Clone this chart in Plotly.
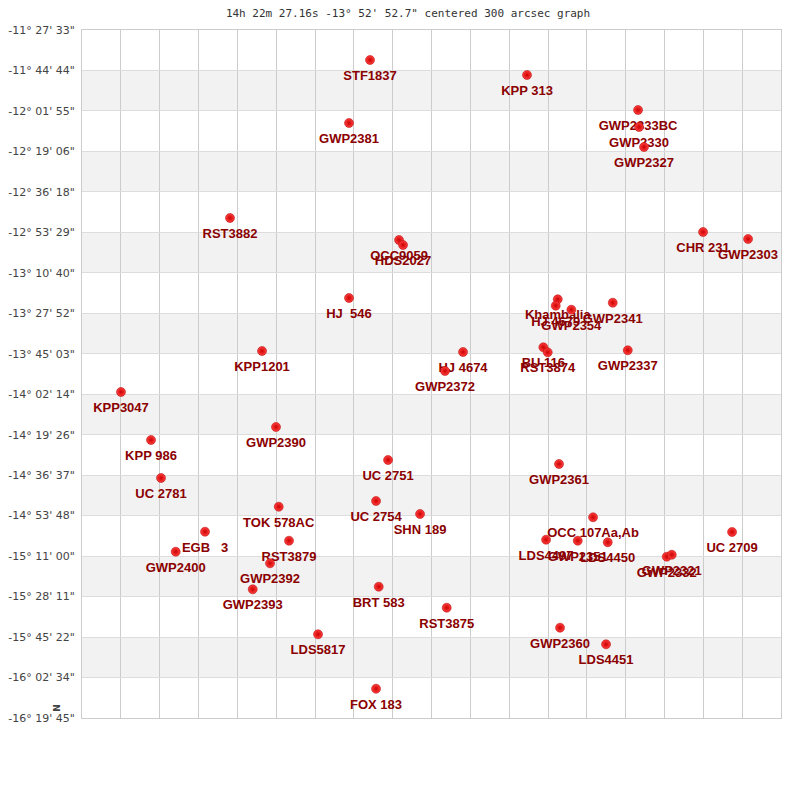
import plotly.graph_objects as go

# Star names, RA offset (grid units, east to the left) and declination (degrees)
names = ["STF1837", "KPP 313", "GWP2381", "GWP2333BC", "GWP2330", "GWP2327",
         "RST3882", "CHR 231", "GWP2303", "OCC9059", "HDS2027", "HJ  546",
         "Khambalia", "HJ 4679", "GWP2354", "GWP2341", "BU 116", "RST3874",
         "GWP2337", "KPP1201", "HJ 4674", "GWP2372", "KPP3047", "GWP2390",
         "KPP 986", "UC 2751", "GWP2361", "UC 2781", "UC 2754", "SHN 189",
         "TOK 578AC", "EGB   3", "GWP2400", "RST3879", "GWP2392", "GWP2393",
         "BRT 583", "RST3875", "LDS5817", "FOX 183", "GWP2360", "LDS4451",
         "OCC 107Aa,Ab", "LDS4497", "GWP2351", "LDS4450", "GWP2332", "GWP2321",
         "UC 2709"]
ra_grid = [7.417, 11.460, 6.876, 14.319, 14.345, 14.473,
           3.811, 15.993, 17.152, 8.164, 8.267, 6.876,
           12.251, 12.199, 12.601, 13.667, 11.880, 11.993,
           14.054, 4.636, 9.812, 9.348, 1.004, 4.996,
           1.777, 7.881, 12.284, 2.035, 7.572, 8.705,
           5.066, 3.168, 2.413, 5.331, 4.842, 4.396,
           7.641, 9.392, 6.078, 7.572, 12.310, 13.495,
           13.160, 11.950, 12.766, 13.538, 15.058, 15.187,
           16.740]
dec_deg = [-11.6716, -11.7777, -12.1175, -12.0255, -12.1458, -12.2874,
           -12.7900, -12.8891, -12.9386, -12.9457, -12.9811, -13.3562,
           -13.3654, -13.4107, -13.4391, -13.3895, -13.7052, -13.7406,
           -13.7264, -13.7314, -13.7385, -13.8730, -14.0216, -14.2694,
           -14.3614, -14.5030, -14.5313, -14.6304, -14.7932, -14.8852,
           -14.8335, -15.0105, -15.1520, -15.0742, -15.2342, -15.4182,
           -15.3998, -15.5484, -15.7367, -16.1218, -15.6900, -15.8075,
           -14.9086, -15.0671, -15.0742, -15.0855, -15.1874, -15.1733,
           -15.0126]

dec_tick_labels = ["-11° 27' 33\"", "-11° 44' 44\"", "-12° 01' 55\"", "-12° 19' 06\"",
                   "-12° 36' 18\"", "-12° 53' 29\"", "-13° 10' 40\"", "-13° 27' 52\"",
                   "-13° 45' 03\"", "-14° 02' 14\"", "-14° 19' 26\"", "-14° 36' 37\"",
                   "-14° 53' 48\"", "-15° 11' 00\"", "-15° 28' 11\"", "-15° 45' 22\"",
                   "-16° 02' 34\"", "-16° 19' 45\""]
ra_grid_lines = list(range(0, 19))

title_text = "14h 22m 27.16s -13° 52' 52.7\" centered 300 arcsec graph"


def parse_dms(s):
    s = s.replace("°", " ").replace("'", " ").replace('"', " ")
    d, m, sec = [float(p) for p in s.split()]
    sign = -1 if s.strip().startswith("-") else 1
    return sign * (abs(d) + m / 60 + sec / 3600)


dec_tick_vals = [parse_dms(t) for t in dec_tick_labels]

fig = go.Figure()

# alternating bands
shapes = []
for i in range(1, len(dec_tick_vals) - 1, 2):
    shapes.append(dict(type="rect", xref="paper", yref="y", x0=0, x1=1,
                       y0=dec_tick_vals[i + 1], y1=dec_tick_vals[i],
                       fillcolor="#f2f2f2", line=dict(width=0), layer="below"))

# labels (invisible larger markers push text a bit lower)
fig.add_trace(go.Scatter(
    x=ra_grid, y=dec_deg, text=names, mode="markers+text",
    textposition="bottom center",
    textfont=dict(family="Liberation Sans, Arial, sans-serif", size=13,
                  color="#8b0000", weight="bold"),
    marker=dict(size=15, color="rgba(0,0,0,0)"),
    cliponaxis=False, hoverinfo="skip", showlegend=False))

# star dots
fig.add_trace(go.Scatter(
    x=ra_grid, y=dec_deg, text=names, mode="markers",
    marker=dict(size=9, color="#ff4040",
                gradient=dict(type="radial", color="#cc0000"),
                line=dict(width=0.5, color="#b00000")),
    cliponaxis=False, hoverinfo="text", showlegend=False))

fig.update_layout(
    width=800, height=800,
    paper_bgcolor="white", plot_bgcolor="white",
    margin=dict(l=74, r=27, t=22, b=90, autoexpand=False),
    shapes=shapes,
    title=dict(text=title_text, x=0.5, xanchor="center", y=0.994, yanchor="middle",
               font=dict(family="DejaVu Sans Mono, monospace", size=11, color="#333")),
    xaxis=dict(range=[0, 18], tickvals=ra_grid_lines, showticklabels=False,
               showgrid=True, gridcolor="#cccccc", gridwidth=1, zeroline=False,
               showline=True, linecolor="#cccccc", mirror=True, ticks="",
               automargin=False),
    yaxis=dict(range=[dec_tick_vals[-1], dec_tick_vals[0]], tickvals=dec_tick_vals,
               ticktext=dec_tick_labels, showgrid=True, gridcolor="#dddddd",
               gridwidth=1, zeroline=False, showline=True, linecolor="#cccccc",
               mirror=True, ticks="", ticklabelstandoff=4, automargin=False,
               tickfont=dict(family="DejaVu Sans, sans-serif", size=11, color="#444")),
    annotations=[dict(text="<b>N</b>", xref="paper", yref="paper", x=-0.036, y=0.0145,
                      xanchor="center", yanchor="middle",
                      showarrow=False, textangle=-90,
                      font=dict(family="DejaVu Sans, sans-serif", size=9, color="#444"))],
)

fig.write_html("out.html")
